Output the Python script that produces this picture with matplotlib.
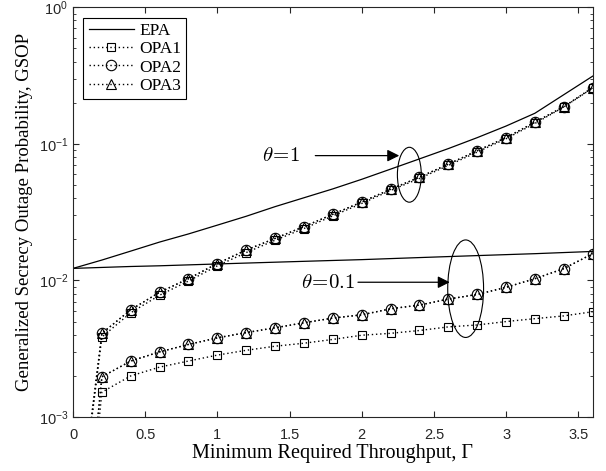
import matplotlib
matplotlib.use('Agg')
import matplotlib.pyplot as plt
from matplotlib.patches import Ellipse
import numpy as np

plt.rcParams['font.family'] = ['Liberation Sans', 'DejaVu Sans']
serif = ['Liberation Serif', 'DejaVu Serif']

# minimum required throughput
gamma = [0.0, 0.2, 0.4, 0.6, 0.8, 1.0, 1.2, 1.4, 1.6, 1.8, 2.0,
         2.2, 2.4, 2.6, 2.8, 3.0, 3.2, 3.4, 3.6]

# theta = 1
epa_t1 = [0.01225, 0.0141, 0.0164, 0.0191, 0.0219, 0.0254, 0.0295, 0.0347,
          0.0403, 0.0468, 0.055, 0.0653, 0.0776, 0.0923, 0.111, 0.135,
          0.1675, 0.229, 0.313]
opa1_t1 = [7.5e-5, 3.85e-3, 5.8e-3, 7.8e-3, 0.0099, 0.0128, 0.0160, 0.0197,
           0.0240, 0.0297, 0.0366, 0.0456, 0.0558, 0.0695, 0.087, 0.109,
           0.141, 0.186, 0.256]
opa2_t1 = [8e-5, 4.1e-3, 6.1e-3, 8.2e-3, 0.0103, 0.0133, 0.0167, 0.0203,
           0.0248, 0.0305, 0.0375, 0.0465, 0.057, 0.071, 0.089, 0.111,
           0.144, 0.187, 0.258]
opa3_t1 = [8e-5, 4.1e-3, 6.1e-3, 8.2e-3, 0.0103, 0.0133, 0.0167, 0.0203,
           0.0248, 0.0305, 0.0375, 0.0465, 0.057, 0.071, 0.089, 0.111,
           0.144, 0.187, 0.258]

# theta = 0.1
epa_t01 = [0.01225, 0.01245, 0.01265, 0.0128, 0.0130, 0.0132, 0.0134, 0.0136,
           0.0138, 0.0140, 0.0142, 0.01445, 0.0147, 0.01495, 0.0152, 0.01545,
           0.0157, 0.0160, 0.0163]
opa1_t01 = [1.2e-5, 1.52e-3, 2.0e-3, 2.32e-3, 2.57e-3, 2.84e-3, 3.08e-3,
            3.3e-3, 3.47e-3, 3.7e-3, 3.97e-3, 4.1e-3, 4.3e-3, 4.57e-3,
            4.72e-3, 5.0e-3, 5.25e-3, 5.5e-3, 5.9e-3]
opa2_t01 = [1.5e-5, 1.97e-3, 2.57e-3, 3.0e-3, 3.4e-3, 3.8e-3, 4.15e-3,
            4.5e-3, 4.9e-3, 5.3e-3, 5.6e-3, 6.2e-3, 6.6e-3, 7.3e-3,
            7.9e-3, 8.9e-3, 0.0103, 0.0122, 0.0157]
opa3_t01 = list(opa2_t01)

fig = plt.figure(figsize=(6.06, 4.71), dpi=100)
ax = fig.add_axes([0.1205, 0.1146, 0.8575, 0.870])

k = '#000000'
dot = (0, (1, 2))
mk = dict(markerfacecolor='none', markeredgecolor=k, markeredgewidth=0.8)
ax.semilogy(gamma, epa_t1, '-', color=k, lw=0.9, label='EPA')
ax.semilogy(gamma, opa1_t1, ls=dot, marker='s', color=k, lw=1.0, ms=5.5,
            label='OPA1', **mk)
ax.semilogy(gamma, opa2_t1, ls=dot, marker='o', color=k, lw=1.0, ms=7.5,
            label='OPA2', **mk)
ax.semilogy(gamma, opa3_t1, ls=dot, marker='^', color=k, lw=1.0, ms=7.5,
            label='OPA3', **mk)
ax.semilogy(gamma, epa_t01, '-', color=k, lw=0.9)
ax.semilogy(gamma, opa1_t01, ls=dot, marker='s', color=k, lw=1.0, ms=5.5, **mk)
ax.semilogy(gamma, opa2_t01, ls=dot, marker='o', color=k, lw=1.0, ms=7.5, **mk)
ax.semilogy(gamma, opa3_t01, ls=dot, marker='^', color=k, lw=1.0, ms=7.5, **mk)

ax.set_xlim(0, 3.6)
ax.set_ylim(1e-3, 1)
ax.set_xticks(np.arange(0, 3.51, 0.5))
ax.set_xticklabels(['0', '0.5', '1', '1.5', '2', '2.5', '3', '3.5'])
ax.tick_params(which='both', direction='in', top=True, right=True,
               labelsize=10.5, colors='#262626')
ax.tick_params(axis='x', pad=8)
ax.tick_params(which='major', length=4)
ax.tick_params(which='minor', length=2)
for s in ax.spines.values():
    s.set_color('#262626')
    s.set_linewidth(0.8)

ax.set_xlabel('Minimum Required Throughput, Γ', fontsize=14.5, labelpad=1,
              family=serif)
ax.set_ylabel('Generalized Secrecy Outage Probability, GSOP', fontsize=13.5,
              labelpad=4, family=serif)

leg = ax.legend(loc='upper left', prop={'family': serif, 'size': 12.5},
                fancybox=False, edgecolor=k, framealpha=1, handlelength=2.6,
                borderaxespad=0.6, labelspacing=0.12, borderpad=0.3,
                handletextpad=0.3)
leg.get_frame().set_linewidth(0.8)


def ring(xc, yc, w, h):
    # ellipse drawn in axes units so it is not bent by the log scale
    px = ax.transData.transform((xc, yc))
    cx, cy = ax.transAxes.inverted().transform(px)
    ax.add_patch(Ellipse((cx, cy), w, h, transform=ax.transAxes,
                         fill=False, ec=k, lw=0.8))


ring(2.33, 0.0594, 0.046, 0.134)
ring(2.72, 0.0087, 0.069, 0.238)

ax.annotate(r'$\theta\!=\!1$', xy=(2.26, 0.082), xytext=(1.31, 0.082),
            fontsize=15, math_fontfamily='cm', va='center', ha='left',
            arrowprops=dict(arrowstyle='-|>', color=k, lw=0.9,
                            mutation_scale=18, shrinkA=9, shrinkB=0))
ax.annotate(r'$\theta\!=\!0.1$', xy=(2.61, 0.0097), xytext=(1.58, 0.0097),
            fontsize=15, math_fontfamily='cm', va='center', ha='left',
            arrowprops=dict(arrowstyle='-|>', color=k, lw=0.9,
                            mutation_scale=18, shrinkA=0, shrinkB=0))

fig.savefig('out.png', dpi=100)
